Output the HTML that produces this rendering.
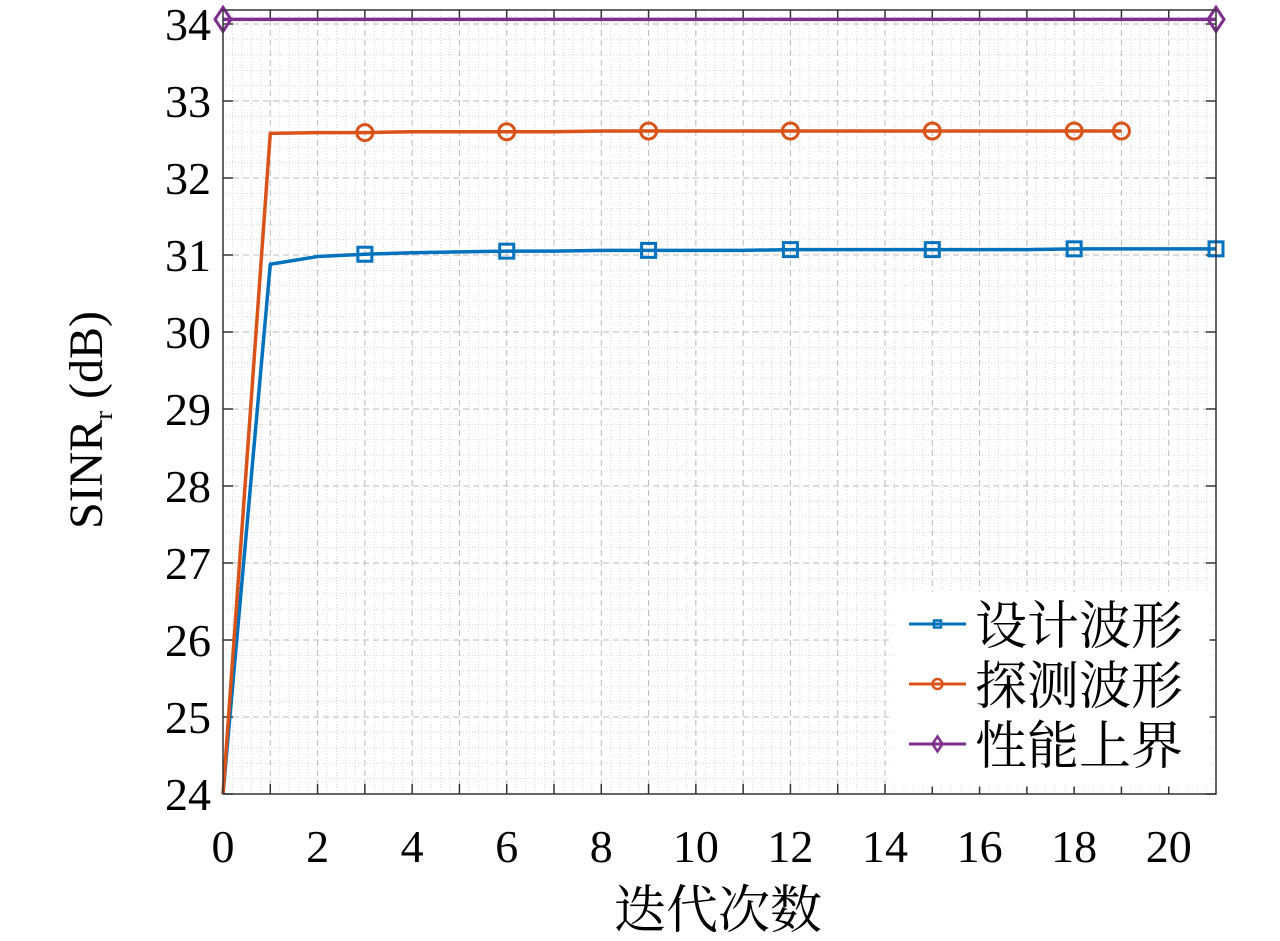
<!DOCTYPE html>
<html><head><meta charset="utf-8"><style>
body{margin:0;background:#fff;}
svg text{font-family:"Liberation Serif","Noto Serif CJK SC",serif;fill:#000;}
</style></head><body>
<svg id="c" width="1280" height="936" xmlns="http://www.w3.org/2000/svg"></svg>
<script>
const xs=[0,1,2,3,4,5,6,7,8,9,10,11,12,13,14,15,16,17,18,19,20,21];
const design=[24,30.88,30.98,31.01,31.03,31.04,31.05,31.05,31.06,31.06,31.06,31.06,31.07,31.07,31.07,31.07,31.07,31.07,31.08,31.08,31.08,31.08];
const probeX=[0,1,2,3,4,5,6,7,8,9,10,11,12,13,14,15,16,17,18,19];
const probe=[24,32.58,32.59,32.59,32.6,32.6,32.6,32.6,32.61,32.61,32.61,32.61,32.61,32.61,32.61,32.61,32.61,32.61,32.61,32.61];
const boundX=[0,21];
const bound=[34.06,34.06];
const designMk=[3,6,9,12,15,18,21];
const probeMk=[3,6,9,12,15,18,19];
const boundMk=[0,21];
const xTicks=[0,2,4,6,8,10,12,14,16,18,20];
const yTicks=[24,25,26,27,28,29,30,31,32,33,34];

const L=223,R=1216,T=10,B=794;
const X=v=>L+v*(R-L)/21;
const Y=v=>B-(v-24)*77;
const S=document.getElementById('c');
const NS='http://www.w3.org/2000/svg';
function mk(t,a){const e=document.createElementNS(NS,t);for(const k in a)e.setAttribute(k,a[k]);S.appendChild(e);return e;}
for(let v=0;v<=21.001;v+=0.2){if(Math.abs(v-Math.round(v))<1e-6)continue;
 const e=mk('line',{x1:X(v),x2:X(v),y1:T,y2:B,stroke:'#d8d8d8','stroke-width':1,'stroke-dasharray':'1,2'});
 
 }
for(let v=24.2;v<34.18;v+=0.2){if(Math.abs(v-Math.round(v))<1e-6)continue;
 const e=mk('line',{x1:L,x2:R,y1:Y(v),y2:Y(v),stroke:'#d8d8d8','stroke-width':1,'stroke-dasharray':'1,2'});
 
 }
for(let v=1;v<=20;v++){
 const e=mk('line',{x1:X(v),x2:X(v),y1:T,y2:B,stroke:'#bbb','stroke-width':1,'stroke-dasharray':'6,4'});
 
 
 mk('line',{x1:X(v),x2:X(v),y1:B,y2:B-10,stroke:'#333','stroke-width':1.5});
 mk('line',{x1:X(v),x2:X(v),y1:T,y2:T+10,stroke:'#333','stroke-width':1.5});}
yTicks.forEach(v=>{
 const e=mk('line',{x1:L,x2:R,y1:Y(v),y2:Y(v),stroke:'#bbb','stroke-width':1,'stroke-dasharray':'6,4'});
 
 
 mk('line',{x1:L,x2:L+10,y1:Y(v),y2:Y(v),stroke:'#333','stroke-width':1.5});
 mk('line',{x1:R,x2:R-10,y1:Y(v),y2:Y(v),stroke:'#333','stroke-width':1.5});
 const t=mk('text',{x:L-12,y:Y(v)+16,'text-anchor':'end','font-size':46});t.textContent=v;
 
 });
xTicks.forEach(v=>{
 const t=mk('text',{x:X(v),y:862,'text-anchor':'middle','font-size':46});t.textContent=v;
 
 });
function line(xv,yv,col,name){const p=xv.map((x,i)=>X(x)+','+Y(yv[i])).join(' ');
 const e=mk('polyline',{points:p,fill:'none',stroke:col,'stroke-width':3.5,'stroke-linejoin':'round'});
 
 }
line(xs,design,'#0072bd','design-waveform-line');
line(probeX,probe,'#d95319','probe-waveform-line');
line(boundX,bound,'#7e2f8e','upper-bound-line');
function marker(type,x,y,col,s){
 let e;
 if(type==='sq')e=mk('rect',{x:x-s,y:y-s,width:2*s,height:2*s,fill:'none',stroke:col,'stroke-width':3});
 else if(type==='ci')e=mk('circle',{cx:x,cy:y,r:s,fill:'none',stroke:col,'stroke-width':3});
 else e=mk('polygon',{points:`${x},${y-s*1.5} ${x+s},${y} ${x},${y+s*1.5} ${x-s},${y}`,fill:'none',stroke:col,'stroke-width':3});
 return e;}
designMk.forEach(v=>{const e=marker('sq',X(v),Y(design[xs.indexOf(v)]),'#0072bd',7);
 
 });
probeMk.forEach(v=>{const e=marker('ci',X(v),Y(probe[probeX.indexOf(v)]),'#d95319',8);
 
 });
boundMk.forEach((v,i)=>{const e=marker('di',X(v),Y(bound[i]),'#7e2f8e',8);
 
 });
const bx=mk('rect',{x:L,y:T,width:R-L,height:B-T,fill:'none',stroke:'#333','stroke-width':1.5});


const lg=mk('rect',{x:893,y:592,width:316,height:194,fill:'#fff',stroke:'#fff'});


const items=[['#0072bd','sq','设计波形'],['#d95319','ci','探测波形'],['#7e2f8e','di','性能上界']];
items.forEach((it,i)=>{const y=624+i*60;
 mk('line',{x1:909,x2:966,y1:y,y2:y,stroke:it[0],'stroke-width':3});
 marker(it[1],937.5,y,it[0],it[1]==='sq'?3.5:5).setAttribute('stroke-width',2.5);
 const t=mk('text',{x:975,y:y+20,'font-size':52});t.textContent=it[2];
 
 });
const xl=mk('text',{x:718,y:928,'text-anchor':'middle','font-size':52});xl.textContent='迭代次数';


const yl=mk('text',{transform:'translate(102,420) rotate(-90)','text-anchor':'middle','font-size':48});
yl.innerHTML='SINR<tspan font-size="26" dy="10">r</tspan><tspan dy="-10"> (dB)</tspan>';


</script>
</body></html>
